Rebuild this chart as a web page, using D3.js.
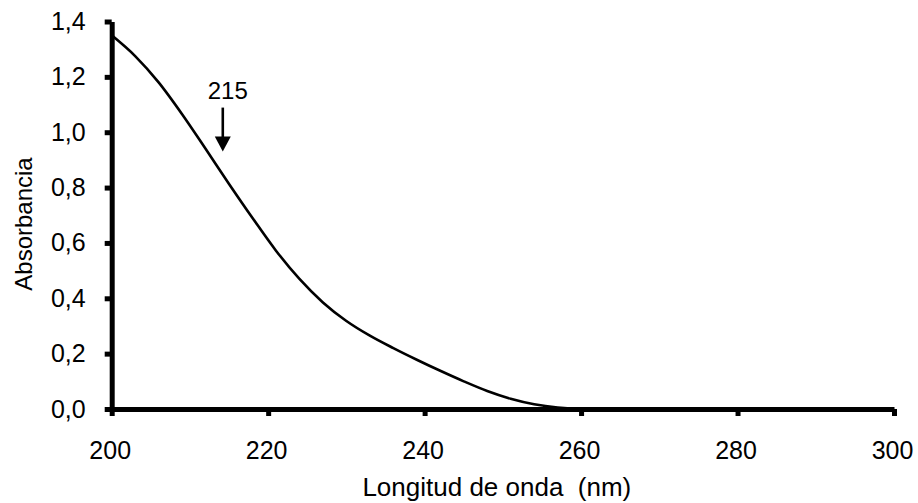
<!DOCTYPE html>
<html>
<head>
<meta charset="utf-8">
<script src="https://cdn.jsdelivr.net/npm/d3@7"></script>
<style>
  body { margin: 0; background: #fff; }
  svg text { font-family: "Liberation Sans", Arial, sans-serif; fill: #000; }
</style>
</head>
<body>
<div id="chart"></div>
<script>
// wavelength (nm) and absorbance
const wavelength = [200, 203, 206, 209, 212, 215, 218, 221, 224, 227, 230, 233, 236, 239, 242, 245, 248, 251, 254, 257, 260, 280, 300];
const absorbance = [1.35, 1.275, 1.18, 1.065, 0.94, 0.813, 0.69, 0.572, 0.47, 0.385, 0.318, 0.265, 0.22, 0.178, 0.138, 0.1, 0.065, 0.037, 0.017, 0.005, 0.0, 0.0, 0.0];
const xTicks = [200, 220, 240, 260, 280, 300];
const yTicks = [0, 0.2, 0.4, 0.6, 0.8, 1.0, 1.2, 1.4];
const peakLabel = '215';
const peakX = 214.2;
const peakY = 0.93;

const width = 918, height = 503;
const margin = { top: 21.5, right: 24, bottom: 94, left: 111.7 };

const svg = d3.select('#chart')
  .append('svg')
  .attr('width', width)
  .attr('height', height);

const x = d3.scaleLinear().domain([200, 300]).range([margin.left, width - margin.right]);
const y = d3.scaleLinear().domain([0, 1.4]).range([height - margin.bottom, margin.top]);

const fmt = d3.format('.1f');

// axes
const xAxis = svg.append('g')
  .attr('transform', `translate(0,${y(0)})`)
  .call(d3.axisBottom(x).tickValues(xTicks).tickSize(7).tickPadding(25).tickSizeOuter(0));

const yAxis = svg.append('g')
  .attr('transform', `translate(${x(200)},0)`)
  .call(d3.axisLeft(y).tickValues(yTicks).tickSize(7).tickPadding(19).tickSizeOuter(0)
    .tickFormat((d) => fmt(d).replace('.', ',')));

[xAxis, yAxis].forEach((g) => {
  g.select('.domain').style('stroke', '#000').style('stroke-width', '5px');
  g.selectAll('.tick line').style('stroke', '#000').style('stroke-width', '5px');
  g.selectAll('.tick text').attr('font-size', 25);
});
xAxis.selectAll('.tick text').attr('dx', -2);

// curve
const points = wavelength.map((w, i) => [w, absorbance[i]]);
const line = d3.line()
  .x((d) => x(d[0]))
  .y((d) => y(d[1]))
  .curve(d3.curveMonotoneX);

svg.append('path')
  .datum(points)
  .attr('d', line)
  .attr('fill', 'none')
  .attr('stroke', '#000')
  .attr('stroke-width', 2.6);

// arrow annotation
const ax = x(peakX);
const tipY = y(peakY);
svg.append('line')
  .attr('x1', ax).attr('x2', ax)
  .attr('y1', tipY - 44).attr('y2', tipY - 12)
  .attr('stroke', '#000')
  .attr('stroke-width', 2.6);
svg.append('path')
  .attr('d', `M${ax - 8},${tipY - 15} L${ax + 8},${tipY - 15} L${ax},${tipY} Z`)
  .attr('fill', '#000');
svg.append('text')
  .attr('x', ax + 5)
  .attr('y', tipY - 53)
  .attr('text-anchor', 'middle')
  .attr('font-size', 24)
  .text(peakLabel);

// axis titles
svg.append('text')
  .attr('x', (x(200) + x(300)) / 2 - 6)
  .attr('y', 496)
  .attr('text-anchor', 'middle')
  .attr('font-size', 26)
  .text('Longitud de onda\u00a0 (nm)');

svg.append('text')
  .attr('transform', `translate(32,224) rotate(-90)`)
  .attr('text-anchor', 'middle')
  .attr('font-size', 24)
  .text('Absorbancia');
</script>
</body>
</html>
